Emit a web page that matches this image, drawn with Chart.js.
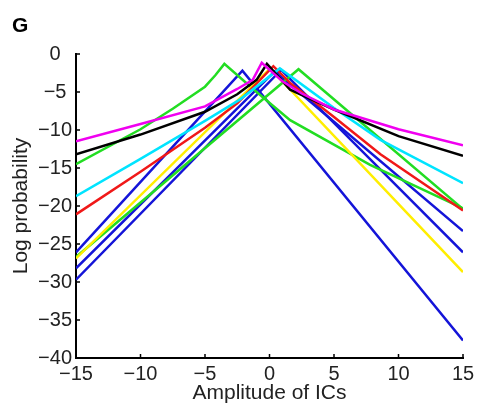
<!DOCTYPE html>
<html>
<head>
<meta charset="utf-8">
<script src="https://cdn.jsdelivr.net/npm/chart.js@4"></script>
<style>
  body { margin: 0; background: #fff; }
  #wrap { position: relative; width: 481px; height: 411px; }
  #letra { position: absolute; left: 12px; top: 14px; font: bold 21px "Liberation Sans", Arial, sans-serif; line-height: 21px; }
</style>
</head>
<body>
<div id="wrap">
  <canvas id="grafico"></canvas>
  <div id="letra">G</div>
</div>
<script>
const xTicks = [-15, -10, -5, 0, 5, 10, 15];
const yTicks = [0, -5, -10, -15, -20, -25, -30, -35, -40];

// cada curva: amplitude (x) e log probabilidade (y)
const magentaX = [-15, -10, -5, -2.5, -1.3, -0.6, 1, 2.5, 5, 10, 15];
const magentaY = [-11.5, -9.2, -6.9, -4.6, -3.4, -1.15, -3.6, -5.2, -7.3, -9.9, -12.0];

const pretoX = [-15, -10, -5, -2.5, -1, -0.2, 1.6, 5, 10, 15];
const pretoY = [-13.2, -10.6, -7.6, -5.3, -3.4, -1.3, -4.7, -7.3, -10.8, -13.4];

const verde1X = [-15, -10, -7.5, -5, -4.2, -3.5, -1, 1.6, 7.8, 15];
const verde1Y = [-14.5, -9.9, -7.2, -4.3, -2.8, -1.3, -5.0, -8.7, -14.6, -20.3];

const cianoX = [-15, -10, -5, -2.3, 0.8, 5, 8.6, 15];
const cianoY = [-18.7, -13.8, -8.8, -6.0, -1.9, -7.1, -11.3, -17.0];

const vermelhoX = [-15, -10, -5, -2.5, 0.3, 1.6, 5, 8.6, 15];
const vermelhoY = [-21.1, -15.5, -9.7, -6.5, -1.6, -3.8, -8.3, -13.2, -20.6];

const amareloX = [-15, 0.05, 15];
const amareloY = [-26.9, -1.9, -28.7];

const verde2X = [-15, 2.25, 15];
const verde2Y = [-26.7, -2.0, -20.4];

const azulAX = [-15, -2.1, 15];
const azulAY = [-26.1, -2.2, -37.7];

const azulBX = [-15, 0.4, 15];
const azulBY = [-28.2, -2.3, -23.3];

const azulCX = [-15, 0.9, 15];
const azulCY = [-29.7, -2.1, -26.1];

const fonte = '"Liberation Sans", Arial, Helvetica, sans-serif';

function pontos(xs, ys) {
  return xs.map((x, i) => ({ x: x, y: ys[i] }));
}

function serie(xs, ys, cor) {
  return {
    data: pontos(xs, ys),
    borderColor: cor,
    borderWidth: 2.5,
    pointRadius: 0,
    tension: 0,
    fill: false
  };
}

const menos = (v) => String(v).replace('-', '\u2212');

// marcas dos eixos para dentro, como no estilo do MATLAB
const marcasInternas = {
  id: 'marcasInternas',
  afterDraw(chart) {
    const { ctx, chartArea, scales } = chart;
    ctx.save();
    ctx.strokeStyle = '#000';
    ctx.lineWidth = 1.5;
    ctx.beginPath();
    xTicks.forEach((v) => {
      const px = scales.x.getPixelForValue(v);
      ctx.moveTo(px, chartArea.bottom);
      ctx.lineTo(px, chartArea.bottom - 4);
    });
    yTicks.forEach((v) => {
      const py = scales.y.getPixelForValue(v);
      ctx.moveTo(chartArea.left, py);
      ctx.lineTo(chartArea.left + 4, py);
    });
    ctx.stroke();
    ctx.restore();
  }
};

const ctx = document.getElementById('grafico').getContext('2d');

new Chart(ctx, {
  type: 'line',
  data: {
    datasets: [
      serie(magentaX, magentaY, '#f000f0'),
      serie(pretoX, pretoY, '#000000'),
      serie(cianoX, cianoY, '#00e4ff'),
      serie(vermelhoX, vermelhoY, '#f01818'),
      serie(amareloX, amareloY, '#ffee00'),
      serie(verde1X, verde1Y, '#22dd22'),
      serie(verde2X, verde2Y, '#22dd22'),
      serie(azulAX, azulAY, '#1414d8'),
      serie(azulBX, azulBY, '#1414d8'),
      serie(azulCX, azulCY, '#1414d8')
    ]
  },
  options: {
    responsive: true,
    maintainAspectRatio: false,
    animation: false,
    layout: { padding: { top: 54, right: 18, left: 0, bottom: 0 } },
    plugins: {
      legend: { display: false },
      tooltip: { enabled: false }
    },
    scales: {
      x: {
        type: 'linear',
        min: -15,
        max: 15,
        afterFit: (s) => { s.height = 53; },
        afterBuildTicks: (s) => { s.ticks = xTicks.map((v) => ({ value: v })); },
        grid: { display: false, drawTicks: false },
        border: { display: true, color: '#000', width: 2 },
        ticks: {
          color: '#222',
          font: { family: fonte, size: 20 },
          padding: 4,
          maxRotation: 0,
          callback: menos
        },
        title: {
          display: true,
          text: 'Amplitude of ICs',
          color: '#222',
          font: { family: fonte, size: 21 },
          padding: { top: 0, bottom: 5 }
        }
      },
      y: {
        min: -40,
        max: 0,
        afterFit: (s) => { s.width = 76; },
        afterBuildTicks: (s) => { s.ticks = yTicks.map((v) => ({ value: v })); },
        grid: { display: false, drawTicks: false },
        border: { display: true, color: '#000', width: 2 },
        ticks: {
          color: '#222',
          font: { family: fonte, size: 20 },
          padding: 4,
          crossAlign: 'center',
          callback: menos
        },
        title: {
          display: true,
          text: 'Log probability',
          color: '#222',
          font: { family: fonte, size: 21 },
          padding: { top: 9, bottom: 0 }
        }
      }
    }
  },
  plugins: [marcasInternas]
});
</script>
</body>
</html>
